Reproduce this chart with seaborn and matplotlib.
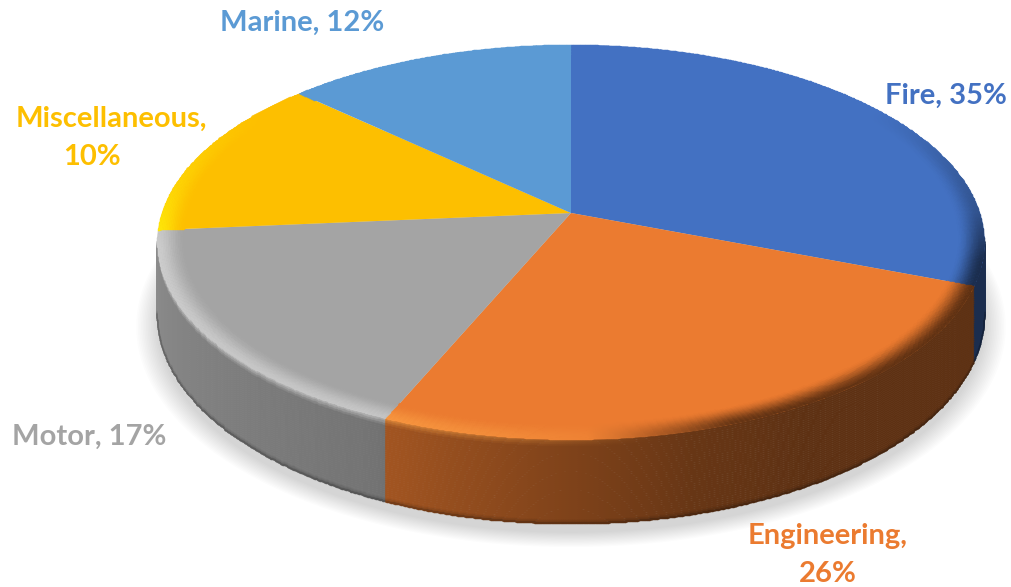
import numpy as np
import matplotlib
matplotlib.use("Agg")
import matplotlib.pyplot as plt
import matplotlib.transforms as mtransforms
from matplotlib.path import Path
import seaborn as sns

# Lines of insurance and their share of the total
categories = ["Fire", "Engineering", "Motor", "Miscellaneous", "Marine"]
shares = [35, 26, 17, 10, 12]
slice_colors = ["#4371C2", "#EB7B30", "#A4A4A4", "#FDBF00", "#5B9AD4"]

# Label layout: centre of the first text line, and of the value's own line where it wraps
label_xy = [(946, 96), (828, 536), (89, 437), (111, 119), (302, 23)]
value_xy = [None, (828, 574), None, (92, 157), None]

sns.set_theme(style="white")
plt.rcParams["font.family"] = ["Lato", "DejaVu Sans"]
palette = sns.color_palette(slice_colors)

# Camera used for the tilted disc, in figure pixels
CX, CY, RX, RY, PERSP, THICK = 571.0, 213.0, 409.0, 193.0, 0.149, 72.0
# Angular skew of the view (harmonic coefficients, degrees)
SKEW = (4.301, -1.624, 7.899, -3.662)


def screen_angle(theta):
    """Clockwise angle from the top, as the camera sees it."""
    t = np.radians(theta)
    a, b, c, d = SKEW
    return theta + a * (np.cos(t) - 1) + b * np.sin(t) + c * (np.cos(2 * t) - 1) + d * np.sin(2 * t)


def project(theta, r, z=0.0):
    phi = np.radians(screen_angle(theta))
    u, v = r * np.sin(phi), -r * np.cos(phi)
    w = 1 - PERSP * v
    return CX + RX * u / w, CY + (RY * v + THICK * z) / w


class TiltedDisc(mtransforms.Transform):
    """Maps the unit disc used by ax.pie onto the tilted top face."""
    input_dims = output_dims = 2
    is_separable = False
    has_inverse = False

    def transform_non_affine(self, values):
        pts = np.asarray(values, dtype=float)
        r = np.hypot(pts[:, 0], pts[:, 1])
        theta = np.degrees(np.arctan2(pts[:, 0], pts[:, 1])) % 360
        return np.column_stack(project(theta, r))

    def transform_path_non_affine(self, path):
        # flatten the wedge's curves first, at a scale where the arc subdivides finely
        poly = path.transformed(mtransforms.Affine2D().scale(2000)).to_polygons()[0] / 2000
        return Path(self.transform_non_affine(poly), closed=True)


fig = plt.figure(figsize=(10.12, 5.87), dpi=100, facecolor="white")
ax = fig.add_axes([0, 0, 1, 1])

# Top face
wedges, _ = ax.pie(shares, colors=palette, startangle=90, counterclock=False, radius=1.0)
view = TiltedDisc()
for w in wedges:
    w.set_transform(view + ax.transData)
    w.set_zorder(3)
    w.set_clip_on(False)
    w.set_edgecolor("none")

ax.set_aspect("auto")
ax.set_xlim(0, 1012)
ax.set_ylim(587, 0)
ax.axis("off")

# Soft shadow under the disc
ring = np.linspace(0, 360, 361)
for grow in np.linspace(1.0, 1.05, 14):
    sx, sy = project(ring, grow, 1.1)
    ax.fill(sx, sy, color="black", alpha=0.011, lw=0, zorder=1)

# Per-angle colour and lighting around the rim
edges = np.cumsum(shares) / np.sum(shares) * 360
theta_edges = np.linspace(0, 360, 1081)
theta_mid = (theta_edges[:-1] + theta_edges[1:]) / 2
phi_mid = screen_angle(theta_mid)
slice_of = np.minimum(np.searchsorted(edges, theta_mid), len(shares) - 1)
base = np.array(palette)[slice_of]
lit = np.clip(base * 1.25 + 0.05, 0, 1)
wall_shade = np.interp(phi_mid, [0, 150, 165, 206, 265, 360], [0.40, 0.40, 0.44, 0.71, 0.86, 0.90])
light = np.interp(phi_mid, [170, 190, 206, 260, 278, 305], [0, 0.4, 0.65, 0.75, 0.35, 0.0])
dark_gate = np.interp(phi_mid, [55, 90, 104, 160, 178], [0, 0.45, 1, 1, 0])

# Only the part of the side wall that faces the camera is drawn
silhouette = np.degrees(np.arccos(-PERSP))
facing = (phi_mid > silhouette - 0.5) & (phi_mid < 360 - silhouette + 0.5)
first, last = np.flatnonzero(facing)[[0, -1]]
wall_cols = slice(first, last + 1)
wall_theta = theta_edges[first:last + 2]

z_edges = np.linspace(0, 1, 41)
z_mid = (z_edges[:-1] + z_edges[1:]) / 2
foot = 1 - 0.35 * np.clip((z_mid - 0.95) / 0.05, 0, 1)
glow = np.clip(1 - z_mid / 0.08, 0, 1)
T, Z = np.meshgrid(wall_theta, z_edges)
wall_x, wall_y = project(T, 1.0, Z)
wall_rgb = base[wall_cols][None, :, :] * wall_shade[wall_cols][None, :, None] * foot[:, None, None]
wall_mix = (glow[:, None] * light[wall_cols][None, :])[..., None]
wall_rgb = wall_rgb * (1 - wall_mix) + wall_mix * lit[wall_cols][None, :, :]
ax.pcolormesh(wall_x, wall_y, np.clip(wall_rgb, 0, 1), shading="flat", zorder=2,
              edgecolors="face", linewidth=0.3, antialiased=True)

# Bevel on the top face: highlight on the front left, a fade into the wall on the right
s_edges = np.linspace(0, 1, 17)
s_mid = (s_edges[:-1] + s_edges[1:]) / 2
smooth = s_mid * s_mid * (3 - 2 * s_mid)
T, S = np.meshgrid(theta_edges, 1 - 0.065 * (1 - s_edges))
bevel_x, bevel_y = project(T, S)
dark_part = 1 - (1 - wall_shade)[None, :] * dark_gate[None, :] * smooth[:, None]
bevel_rgb = base[None, :, :] * dark_part[..., None]
bevel_mix = (smooth[:, None] * light[None, :])[..., None]
bevel_rgb = bevel_rgb * (1 - bevel_mix) + bevel_mix * lit[None, :, :]
ax.pcolormesh(bevel_x, bevel_y, np.clip(bevel_rgb, 0, 1), shading="flat", zorder=4,
              edgecolors="face", linewidth=0.3, antialiased=True)

# Data labels
for name, share, color, (x, y), value_pos in zip(categories, shares, palette, label_xy, value_xy):
    style = dict(color=color, ha="center", va="center", fontsize=21, fontweight="bold", zorder=5)
    if value_pos is None:
        ax.text(x, y, f"{name}, {share}%", **style)
    else:
        ax.text(x, y, f"{name},", **style)
        ax.text(*value_pos, f"{share}%", **style)

fig.savefig("out.png", dpi=100, facecolor="white")
